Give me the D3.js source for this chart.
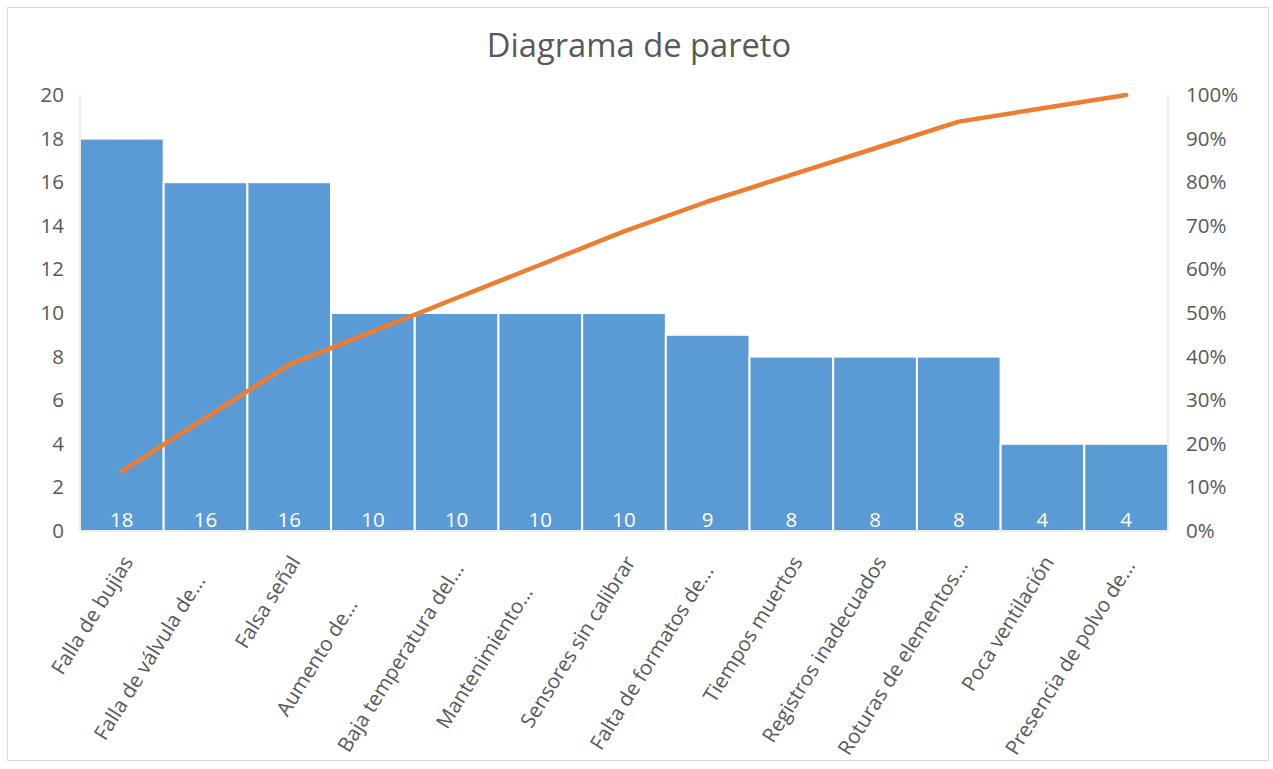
<!DOCTYPE html>
<html><head><meta charset="utf-8">
<script src="https://cdn.jsdelivr.net/npm/d3@7"></script>
<style>
body{margin:0;background:#fff;}
text{font-family:"Open Sans","Lato",sans-serif;}
</style></head><body>
<svg id="c" width="1273" height="769"></svg>
<script>
const categories = ["Falla de bujias","Falla de válvula de...","Falsa señal","Aumento de...","Baja temperatura del...","Mantenimiento...","Sensores sin calibrar","Falta de formatos de...","Tiempos muertos","Registros inadecuados","Roturas de elementos...","Poca ventilación","Presencia de polvo de..."];
const counts = [18,16,16,10,10,10,10,9,8,8,8,4,4];
const leftTicks = [0,2,4,6,8,10,12,14,16,18,20];
const rightTicks = [0,0.1,0.2,0.3,0.4,0.5,0.6,0.7,0.8,0.9,1.0];
const title = "Diagrama de pareto";

const total = d3.sum(counts);
let run = 0;
const cumulative = counts.map(v => (run += v) / total);

const svg = d3.select("#c");
svg.append("rect").attr("x",7.5).attr("y",7.5).attr("width",1261).attr("height",753)
  .attr("fill","#fff").attr("stroke","#d9d9d9").attr("stroke-width",1);

const m = {left:80, right:1168, top:95, bottom:531};
const x = d3.scaleBand().domain(categories).range([m.left, m.right]).padding(0);
const y = d3.scaleLinear().domain([0,20]).range([m.bottom, m.top]);
const y2 = d3.scaleLinear().domain([0,1]).range([m.bottom, m.top]);

svg.append("text").attr("x",639).attr("y",57).attr("text-anchor","middle")
  .attr("font-size",32.7).attr("fill","#595959").text(title);

// bars
svg.append("g").selectAll("rect").data(counts).join("rect")
  .attr("x",(d,i)=>x(categories[i])).attr("y",d=>y(d))
  .attr("width",x.bandwidth()).attr("height",d=>y(0)-y(d))
  .attr("fill","#5B9BD5").attr("stroke","#fff").attr("stroke-width",2);

// axes lines
svg.append("line").attr("x1",m.left).attr("x2",m.left).attr("y1",m.top).attr("y2",m.bottom).attr("stroke","#d9d9d9");
svg.append("line").attr("x1",m.right).attr("x2",m.right).attr("y1",m.top).attr("y2",m.bottom).attr("stroke","#d9d9d9");
svg.append("line").attr("x1",m.left).attr("x2",m.right).attr("y1",m.bottom).attr("y2",m.bottom).attr("stroke","#d9d9d9");

// left axis
const la = svg.append("g").attr("transform",`translate(${m.left-16},0)`)
  .call(d3.axisLeft(y).tickValues(leftTicks).tickSize(0).tickPadding(0));
la.select(".domain").remove();
la.selectAll("text").attr("font-size",20.5).attr("fill","#595959").attr("font-family","Open Sans");

// right axis
const ra = svg.append("g").attr("transform",`translate(${m.right+18},0)`)
  .call(d3.axisRight(y2).tickValues(rightTicks).tickFormat(d3.format(".0%")).tickSize(0).tickPadding(0));
ra.select(".domain").remove();
ra.selectAll("text").attr("font-size",20.5).attr("fill","#595959").attr("font-family","Open Sans");

// data labels
svg.append("g").selectAll("text").data(counts).join("text")
  .attr("x",(d,i)=>x(categories[i])+x.bandwidth()/2).attr("y",y(0)-4)
  .attr("text-anchor","middle").attr("font-size",20.5).attr("fill","#fff").text(d=>d);

// category labels: full labels end-anchored at top, truncated ones centred in the label box
const boxLen = 234;
svg.append("g").selectAll("text").data(categories).join("text")
  .attr("transform",d=>`translate(${x(d)+x.bandwidth()/2+6},${m.bottom+27}) rotate(-58)`)
  .attr("text-anchor",d=>d.endsWith("...") ? "middle" : "end")
  .attr("x",d=>d.endsWith("...") ? -boxLen/2 : 0)
  .attr("dy","0.35em")
  .attr("font-size",20.5).attr("fill","#595959").text(d=>d);

// cumulative line
const line = d3.line().x((d,i)=>x(categories[i])+x.bandwidth()/2).y(d=>y2(d));
svg.append("path").datum(cumulative).attr("d",line).attr("fill","none")
  .attr("stroke","#ED7D31").attr("stroke-width",4.5).attr("stroke-linecap","round").attr("stroke-linejoin","round");
</script></body></html>
